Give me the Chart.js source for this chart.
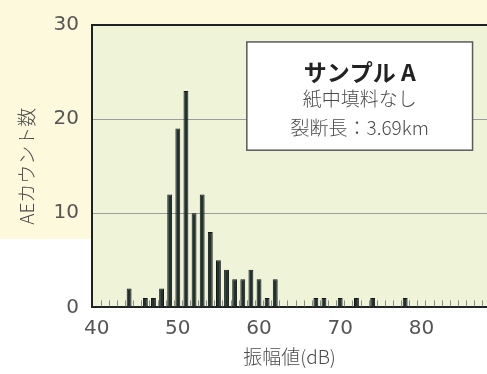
<!DOCTYPE html>
<html lang="ja">
<head>
<meta charset="utf-8">
<script src="https://cdn.jsdelivr.net/npm/chart.js@4"></script>
<style>
html,body{margin:0;padding:0;background:#fff;overflow:hidden}
#wrap{position:relative;width:487px;height:374px}
</style>
</head>
<body>
<div id="wrap"><canvas id="c"></canvas></div>
<script>
// AE amplitude histogram: counts per 1 dB bin
const amplitudeDb = [44, 46, 47, 48, 49, 50, 51, 52, 53, 54, 55, 56, 57, 58, 59, 60, 61, 62, 67, 68, 70, 72, 74, 78];
const aeCount     = [ 2,  1,  1,  2, 12, 19, 23, 10, 12,  8,  5,  4,  3,  3,  4,  3,  1,  3,  1,  1,  1,  1,  1,  1];
const xTickValues = [40, 50, 60, 70, 80];
const yTickValues = [0, 10, 20, 30];
const sampleTitle = 'サンプル A';
const sampleNotes = ['紙中填料なし', '裂断長：3.69km'];
const xTitle = '振幅値(dB)';
const yTitle = 'AEカウント数';

const FONT = "'Noto Sans CJK JP', 'Noto Sans', sans-serif";
const NUM_FONT = "'DejaVu Sans', 'Noto Sans', sans-serif";
const INK = '#1d2323';
const LABEL = '#4a4a4a';

// page and plot backgrounds
const backdrop = {
  id: 'backdrop',
  beforeDraw(chart) {
    const {ctx, chartArea: a, width, height} = chart;
    ctx.save();
    ctx.fillStyle = '#ffffff';
    ctx.fillRect(0, 0, width, height);
    ctx.fillStyle = '#fdf9dc';
    ctx.fillRect(0, 0, width, Math.round(height * 0.64));
    ctx.fillStyle = '#eff4d9';
    ctx.fillRect(a.left, a.top, a.right - a.left, a.bottom - a.top);
    ctx.restore();
  }
};

// short bin-edge marks along the amplitude axis
const binMarks = {
  id: 'binMarks',
  beforeDatasetsDraw(chart) {
    const {ctx, chartArea: a} = chart;
    const x = chart.scales.x;
    ctx.save();
    ctx.strokeStyle = '#8a8a8a';
    ctx.lineWidth = 1;
    ctx.beginPath();
    for (let v = Math.ceil(x.min) + 0.5; v < x.max; v += 1) {
      const px = Math.round(x.getPixelForValue(v)) + 0.5;
      ctx.moveTo(px, a.bottom - 1);
      ctx.lineTo(px, a.bottom - 7);
    }
    ctx.stroke();
    ctx.restore();
  }
};

// sample description box
const sampleBox = {
  id: 'sampleBox',
  afterDatasetsDraw(chart, args, opts) {
    const {ctx} = chart;
    const x = chart.scales.x, y = chart.scales.y;
    const l = x.getPixelForValue(opts.x0), r = x.getPixelForValue(opts.x1);
    const t = y.getPixelForValue(opts.y1), b = y.getPixelForValue(opts.y0);
    const cx = (l + r) / 2;
    ctx.save();
    ctx.fillStyle = '#ffffff';
    ctx.fillRect(l, t, r - l, b - t);
    ctx.strokeStyle = '#5a5a5a';
    ctx.lineWidth = 1.5;
    ctx.strokeRect(l, t, r - l, b - t);
    ctx.textAlign = 'center';
    ctx.textBaseline = 'middle';
    ctx.fillStyle = '#222';
    ctx.font = 'bold 23px ' + FONT;
    ctx.fillText(sampleTitle, cx, t + 30);
    ctx.fillStyle = LABEL;
    ctx.font = '300 19px ' + FONT;
    ctx.fillText(sampleNotes[0], cx, t + 57);
    ctx.fillText(sampleNotes[1], cx, t + 86);
    ctx.restore();
  }
};

new Chart(document.getElementById('c'), {
  type: 'bar',
  data: {
    datasets: [{
      data: amplitudeDb.map((v, i) => ({x: v, y: aeCount[i]})),
      backgroundColor: '#233030',
      borderColor: '#101717',
      borderWidth: 1,
      barPercentage: 0.6,
      categoryPercentage: 1
    }]
  },
  options: {
    responsive: true,
    maintainAspectRatio: false,
    animation: false,
    layout: {padding: {top: 14.3, left: 0, right: 0, bottom: 0}},
    plugins: {
      legend: {display: false},
      tooltip: {enabled: false},
      sampleBox: {x0: 58.5, x1: 86.3, y0: 16.7, y1: 28.2}
    },
    scales: {
      x: {
        type: 'linear',
        offset: false,
        min: 39.43,
        max: 88.08,
        afterBuildTicks: s => { s.ticks = xTickValues.map(v => ({value: v})); },
        afterFit: s => { s.height = 66.6; },
        grid: {display: true, offset: false, color: 'rgba(0,0,0,0)', drawTicks: false},
        border: {display: true, color: INK, width: 2},
        ticks: {color: '#555555', font: {family: NUM_FONT, size: 20}, padding: 9, maxRotation: 0},
        title: {display: true, text: xTitle, color: LABEL, font: {family: FONT, size: 19, weight: 300}, padding: {top: 0, bottom: 6}}
      },
      y: {
        min: 0,
        max: 30,
        afterBuildTicks: s => { s.ticks = yTickValues.map(v => ({value: v})); },
        afterFit: s => { s.width = 92; },
        grid: {
          drawTicks: false,
          color: c => c.tick.value === 30 ? INK : (c.tick.value === 0 ? 'rgba(0,0,0,0)' : '#9c9c9c'),
          lineWidth: c => c.tick.value === 30 ? 2 : 1
        },
        border: {display: true, color: INK, width: 2},
        ticks: {color: '#555555', font: {family: NUM_FONT, size: 20}, padding: 13},
        title: {display: true, text: yTitle, color: LABEL, font: {family: FONT, size: 19, weight: 300}, padding: {top: 15.6, bottom: 0}}
      }
    }
  },
  plugins: [backdrop, binMarks, sampleBox]
});
</script>
</body>
</html>
